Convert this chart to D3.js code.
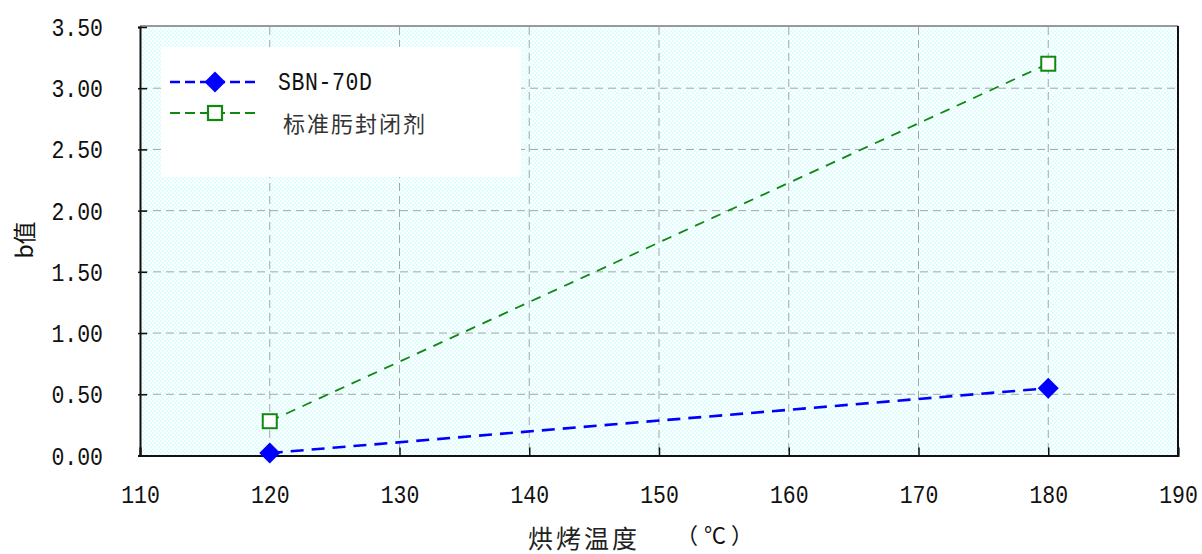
<!DOCTYPE html>
<html><head><meta charset="utf-8">
<script src="https://cdn.jsdelivr.net/npm/d3@7/dist/d3.min.js"></script>
<style>body{margin:0;background:#fff;}svg{display:block;}</style>
</head><body>
<svg id="c" width="1202" height="554"></svg>
<script>
const xTicks = [110,120,130,140,150,160,170,180,190];
const yTicks = [0,0.5,1,1.5,2,2.5,3,3.5];
const yTickLabels = ["0.00","0.50","1.00","1.50","2.00","2.50","3.00","3.50"];
const temps = [120,180];
const sbn = [0.02,0.55];
const std = [0.28,3.20];
const seriesNames = ["SBN-70D","标准肟封闭剂"];

const svg = d3.select("#c");
const L=140,R=1178,T=27,B=455.5;
const x = d3.scaleLinear().domain([110,190]).range([L,R]);
const y = d3.scaleLinear().domain([0,3.5]).range([B,T]);
const monoFont = "Liberation Mono";

const defs = svg.append("defs");
const pat = defs.append("pattern").attr("id","dots").attr("width",4).attr("height",4).attr("patternUnits","userSpaceOnUse");
pat.append("rect").attr("width",4).attr("height",4).attr("fill","#fbffff");
pat.append("rect").attr("x",0).attr("y",0).attr("width",2).attr("height",2).attr("fill","#e0fcfc");
pat.append("rect").attr("x",2).attr("y",2).attr("width",2).attr("height",2).attr("fill","#e0fcfc");

svg.append("rect").attr("x",L).attr("y",T).attr("width",R-L).attr("height",B-T).attr("fill","url(#dots)");

// grid
const g = svg.append("g");
g.selectAll("line.v").data(xTicks.slice(1,-1)).join("line")
  .attr("x1",d=>x(d)).attr("x2",d=>x(d)).attr("y1",T).attr("y2",B)
  .attr("stroke","#a6a6a6").attr("stroke-width",1).attr("stroke-dasharray","8,5");
g.selectAll("line.h").data(yTicks.slice(1,-1)).join("line")
  .attr("x1",L).attr("x2",R).attr("y1",d=>y(d)).attr("y2",d=>y(d))
  .attr("stroke","#a6a6a6").attr("stroke-width",1).attr("stroke-dasharray","8,5");

// borders
svg.append("line").attr("x1",L).attr("x2",R).attr("y1",T-1).attr("y2",T-1).attr("stroke","#999").attr("stroke-width",2);
svg.append("line").attr("x1",R).attr("x2",R).attr("y1",T-1).attr("y2",B).attr("stroke","#111").attr("stroke-width",2);

// axes
const xAxis = d3.axisBottom(x).tickValues(xTicks).tickSize(-8).tickPadding(18).tickFormat(d3.format("d"));
const xa = svg.append("g").attr("transform",`translate(0,${B})`).call(xAxis);
xa.select(".domain").attr("stroke","#111").attr("stroke-width",2);
xa.selectAll(".tick line").attr("stroke","#111").attr("stroke-width",1.5);
xa.selectAll(".tick text").attr("font-family",monoFont).attr("font-size",21.5).attr("fill","#111")
  .attr("y",0).attr("dy",0).attr("transform","translate(0,47) scale(1,1.22)");

const yAxis = d3.axisLeft(y).tickValues(yTicks).tickSize(2).tickPadding(34).tickFormat((d,i)=>yTickLabels[i]);
const ya = svg.append("g").attr("transform",`translate(${L},0)`).call(yAxis);
ya.select(".domain").attr("stroke","#111").attr("stroke-width",2);
ya.selectAll(".tick line").attr("x1",-2).attr("x2",7).attr("stroke","#111").attr("stroke-width",1.5);
ya.selectAll(".tick text").attr("font-family",monoFont).attr("font-size",21.5).attr("fill","#111")
  .attr("x",0).attr("dy",0).attr("text-anchor","end").attr("transform","translate(-37,8.5) scale(1,1.22)");

// axis titles
svg.append("text").attr("transform","translate(33,240) rotate(-90)").attr("text-anchor","middle")
  .attr("font-family","Noto Sans CJK JP").attr("font-size",23).attr("fill","#111").text("b值");
svg.append("text").attr("x",528).attr("y",548).attr("font-family","Noto Sans CJK SC").attr("font-size",25).attr("fill","#222").attr("textLength",109).text("烘烤温度");
const unit = svg.append("text").attr("y",543).attr("font-family","Noto Sans CJK JP").attr("font-size",22).attr("fill","#111");
unit.append("tspan").attr("x",676).text("（");
unit.append("tspan").attr("x",704).text("℃");
unit.append("tspan").attr("x",731).text("）");

// lines
const line = d3.line().x(d=>x(d[0])).y(d=>y(d[1]));
const sbnPts = temps.map((t,i)=>[t,sbn[i]]);
const stdPts = temps.map((t,i)=>[t,std[i]]);
svg.append("path").attr("d",line(stdPts)).attr("fill","none").attr("stroke","#118811").attr("stroke-width",1.8).attr("stroke-dasharray","10,8");
svg.append("path").attr("d",line(sbnPts)).attr("fill","none").attr("stroke","#0000ff").attr("stroke-width",2.6).attr("stroke-dasharray","13,8");

const diamond = d3.symbol().type(d3.symbolSquare).size(220);
svg.selectAll("path.dm").data(sbnPts).join("path")
  .attr("d",diamond).attr("transform",d=>`translate(${x(d[0])},${y(d[1])}) rotate(45)`).attr("fill","#0000ff");
svg.selectAll("rect.sq").data(stdPts).join("rect")
  .attr("x",d=>x(d[0])-7).attr("y",d=>y(d[1])-7).attr("width",14).attr("height",14)
  .attr("fill","#fff").attr("stroke","#118811").attr("stroke-width",2);

// legend
const lg = svg.append("g");
lg.append("rect").attr("x",161).attr("y",47).attr("width",360).attr("height",130).attr("fill","#fff");
const ly = [82,113];
lg.append("line").attr("x1",170).attr("x2",260).attr("y1",ly[0]).attr("y2",ly[0]).attr("stroke","#0000ff").attr("stroke-width",2.6).attr("stroke-dasharray","10,5");
lg.append("path").attr("d",diamond).attr("transform",`translate(215,${ly[0]}) rotate(45)`).attr("fill","#0000ff");
lg.append("line").attr("x1",170).attr("x2",260).attr("y1",ly[1]).attr("y2",ly[1]).attr("stroke","#118811").attr("stroke-width",2.2).attr("stroke-dasharray","10,5");
lg.append("rect").attr("x",208).attr("y",ly[1]-7).attr("width",14).attr("height",14).attr("fill","#fff").attr("stroke","#118811").attr("stroke-width",2.2);
lg.append("text").attr("x",0).attr("y",0).attr("font-family",monoFont).attr("font-size",21.5).attr("fill","#111")
  .attr("textLength",94).attr("transform","translate(278,90) scale(1,1.22)").text(seriesNames[0]);
lg.append("text").attr("x",283).attr("y",132).attr("font-family","Noto Sans CJK SC").attr("font-size",22).attr("fill","#333")
  .attr("textLength",142).text(seriesNames[1]);
</script>
</body></html>
